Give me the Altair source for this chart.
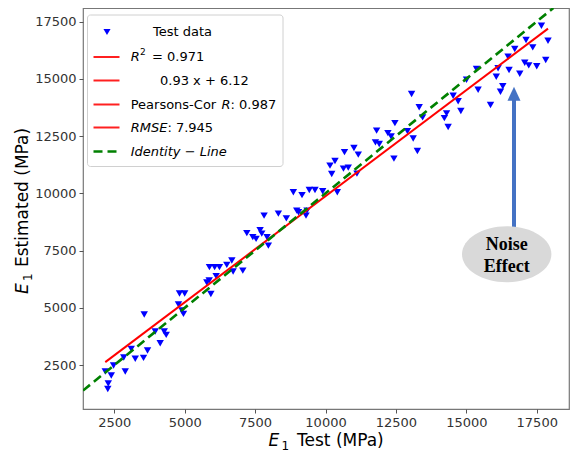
import altair as alt
import pandas as pd

# ---- data ----
x_test = [2181, 2287, 2270, 2394, 2475, 2837, 2890, 3103, 3245, 3539,
          3681, 3564, 4131, 3954, 4273, 4344, 4780, 4957, 4901, 4816,
          5000, 5787, 5869, 5879, 6064, 6234, 5929, 6117, 6496, 6674,
          6720, 7064, 7206, 7418, 7535, 7677, 7737, 7819, 7925, 7971,
          8326, 8610, 8858, 9166, 8979, 9042, 9344, 9308, 9425, 9627,
          9900, 10418, 10159, 10337, 10220, 10638, 10808, 10674, 11010, 11163,
          11117, 11815, 12216, 12330, 11773, 11908, 12429, 12464, 12908, 13113,
          13262, 13056, 13326, 13447, 14298, 14220, 14354, 14532, 14709, 14805,
          15007, 15361, 15418, 15858, 16063, 16127, 16212, 16294, 16482, 16517,
          16719, 16897, 17074, 17216, 17500, 17120, 17358, 17666, 17900, 17819]
y_est = [2221, 1697, 1457, 2046, 2483, 2832, 2221, 3211, 2775, 2818,
         3137, 4708, 3455, 3966, 3966, 3822, 5144, 4738, 4882, 5624,
         5624, 6104, 6191, 6780, 6780, 6780, 5602, 6387, 6876, 7064,
         6584, 6627, 8264, 8089, 8010, 8394, 8242, 9027, 8080, 7718,
         9114, 8905, 10044, 9921, 9245, 9171, 9245, 9027, 10148, 10148,
         10087, 10044, 11209, 11414, 10846, 11078, 11121, 11798, 11981, 11688,
         10860, 12736, 12627, 12483, 12225, 12155, 11514, 13063, 12714, 12395,
         11850, 14337, 13761, 13316, 13490, 13281, 12897, 14263, 14023, 13595,
         14961, 15428, 14524, 13857, 15092, 15463, 14437, 14677, 15964, 15384,
         16300, 15223, 15702, 15585, 15550, 16693, 16370, 17317, 16662, 15820]

reg_x = [2181, 17900]          # fitted line end points
reg_y = [2630, 17190]
identity_vals = [1390, 18090]  # identity line y = x

x_ticks = [2500, 5000, 7500, 10000, 12500, 15000, 17500]
y_ticks = [2500, 5000, 7500, 10000, 12500, 15000, 17500]
x_domain = [1390, 18645]
y_domain = [585, 18090]

FONT = "DejaVu Sans"
W, H = 486, 401

pts = pd.DataFrame({"x": x_test, "y": y_est})
reg = pd.DataFrame({"x": reg_x, "y": reg_y})
ident = pd.DataFrame({"x": identity_vals, "y": identity_vals})
one = pd.DataFrame({"a": [0]})

xs = alt.Scale(domain=x_domain, nice=False, zero=False)
ys = alt.Scale(domain=y_domain, nice=False, zero=False)

x_axis = alt.Axis(values=x_ticks, title=None, format="d", labelFont=FONT, labelFontSize=13,
                  labelColor="#333", tickColor="#555", tickSize=4, domain=False, grid=False,
                  labelPadding=3)
y_axis = alt.Axis(values=y_ticks, title=None, format="d", labelFont=FONT, labelFontSize=13,
                  labelColor="#333", tickColor="#555", tickSize=4, domain=False, grid=False,
                  labelPadding=3)

points = alt.Chart(pts).mark_point(shape="triangle-down", filled=True, size=55,
                                   color="#0000ff", opacity=1).encode(
    x=alt.X("x:Q", scale=xs, axis=x_axis),
    y=alt.Y("y:Q", scale=ys, axis=y_axis),
)
reg_line = alt.Chart(reg).mark_line(color="#ff0000", strokeWidth=2, clip=True).encode(
    x="x:Q", y="y:Q")
id_line = alt.Chart(ident).mark_line(color="#008000", strokeWidth=2.6, strokeDash=[9, 5],
                                     clip=True).encode(x="x:Q", y="y:Q")


def txt(s, x, y, size=13, style="normal", weight="normal", font=FONT, align="left",
        angle=0, color="black"):
    return alt.Chart(one).mark_text(text=s, font=font, fontSize=size, fontStyle=style,
                                    fontWeight=weight, align=align, baseline="middle",
                                    angle=angle, color=color).encode(
        x=alt.value(x), y=alt.value(y))


def hrule(x1, x2, y, color, width=2, dash=None):
    kw = dict(color=color, strokeWidth=width)
    if dash:
        kw["strokeDash"] = dash
    return alt.Chart(one).mark_rule(**kw).encode(
        x=alt.value(x1), x2=alt.value(x2), y=alt.value(y))


# legend
rows = [24, 49, 72.5, 96.5, 119.5, 143.5]
legend_box = alt.Chart(one).mark_rect(fill="white", stroke="#cccccc", strokeWidth=1,
                                      cornerRadius=3, opacity=0.9).encode(
    x=alt.value(4.5), x2=alt.value(200), y=alt.value(7), y2=alt.value(158.5))
legend_marker = alt.Chart(one).mark_point(shape="triangle-down", filled=True, size=50,
                                          color="#0000ff", opacity=1).encode(
    x=alt.value(24), y=alt.value(rows[0]))
legend_layers = [
    legend_box, legend_marker,
    txt("Test data", 70, rows[0]),
    hrule(10.5, 36.5, rows[1], "#ff2020"),
    txt("R", 47.7, rows[1], style="italic"),
    txt("2", 57, rows[1] - 5, size=9),
    txt("= 0.971", 69, rows[1]),
    hrule(10.5, 36.5, rows[2], "#ff2020"),
    txt("0.93 x + 6.12", 77, rows[2]),
    hrule(10.5, 36.5, rows[3], "#ff2020"),
    txt("Pearsons-Cor", 47.7, rows[3]),
    txt("R", 138.5, rows[3], style="italic"),
    txt(": 0.987", 147.5, rows[3]),
    hrule(10.5, 36.5, rows[4], "#ff2020"),
    txt("RMSE", 47.7, rows[4], style="italic"),
    txt(": 7.945", 84.4, rows[4]),
    hrule(10.5, 36.5, rows[5], "#008000", width=2.6, dash=[9, 5]),
    txt("Identity \u2212 Line", 47.7, rows[5], style="italic"),
]

# axis titles
title_layers = [
    txt("E", 185.5, 433, size=17, style="italic"),
    txt("1", 198.5, 438, size=12),
    txt("Test (MPa)", 214, 433, size=17),
    txt("E", -60, 286, size=17, style="italic", angle=270),
    txt("1", -55, 273, size=12, angle=270),
    txt("Estimated (MPa)", -60, 259, size=17, angle=270),
]

# noise-effect annotation
ell_path = "M-1,0A1,0.626,0,1,0,1,0A1,0.626,0,1,0,-1,0Z"
ellipse = alt.Chart(one).mark_point(shape=ell_path, filled=True, size=7992,
                                    color="#d9d9d9", opacity=1).encode(
    x=alt.value(423.7), y=alt.value(246.3))
shaft = alt.Chart(one).mark_rule(color="#4472C4", strokeWidth=4).encode(
    x=alt.value(431), y=alt.value(92), y2=alt.value(220))
head = alt.Chart(one).mark_point(shape="M0,-1L-0.93,1L0.93,1Z", filled=True, size=196,
                                 color="#4472C4", opacity=1).encode(
    x=alt.value(431), y=alt.value(85.7))
annot_layers = [
    shaft, head, ellipse,
    txt("Noise", 423.7, 236.5, size=18, weight="bold", font="Liberation Serif", align="center"),
    txt("Effect", 423.7, 258.5, size=18, weight="bold", font="Liberation Serif", align="center"),
]

chart = alt.layer(points, reg_line, id_line, *legend_layers, *title_layers,
                  *annot_layers).properties(
    width=W, height=H,
    autosize=alt.AutoSizeParams(type="none"),
    padding={"left": 75, "top": 0, "right": 1, "bottom": 44},
    background="white",
).configure_view(stroke="#777777", strokeWidth=1.2)

chart.save("out.html", embed_options={"renderer": "svg", "actions": False})
